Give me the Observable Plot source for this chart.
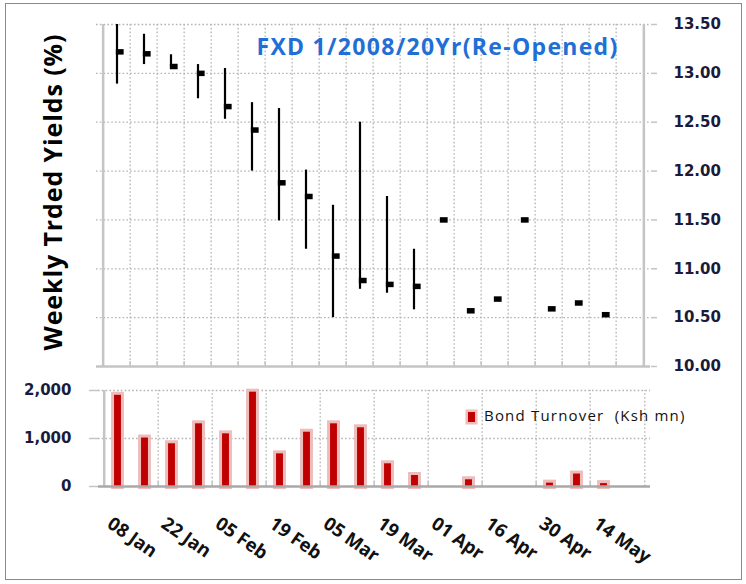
<!DOCTYPE html>
<html><head><meta charset="utf-8">
<script src="https://cdn.jsdelivr.net/npm/d3@7"></script>
<script src="https://cdn.jsdelivr.net/npm/@observablehq/plot@0.6"></script>
<style>
body{margin:0;background:#fff;}
#wrap{position:relative;width:746px;height:584px;overflow:hidden;background:#fff;}
#frame{position:absolute;left:5px;top:3px;width:737px;height:577px;border:1.5px solid #8a8a8a;box-sizing:border-box;}
.abs{position:absolute;}
#title{position:absolute;left:230px;top:31px;width:415px;text-align:center;font-family:"Open Sans";font-weight:700;font-size:23px;letter-spacing:1.3px;color:#1f6fd6;line-height:30px;white-space:nowrap;}
#ylab{position:absolute;left:-128px;top:175px;width:360px;height:34px;line-height:34px;text-align:center;transform:rotate(-90deg);font-family:"Open Sans";font-weight:700;font-size:25px;letter-spacing:0.9px;color:#000;white-space:nowrap;}
#legend{position:absolute;left:468px;top:405px;font-family:"Open Sans";font-size:15px;letter-spacing:1.2px;color:#111;white-space:nowrap;line-height:20px;}
#legend .sw{display:inline-block;width:7px;height:10px;background:#c00000;box-shadow:0 0 0 2.5px #efbcbc;vertical-align:-1px;margin-right:9px;}
</style></head><body>
<div id="wrap">
<div id="frame"></div>
<div id="top" class="abs" style="left:0;top:0"></div>
<div id="bot" class="abs" style="left:0;top:380px"></div>
<div id="title">FXD 1/2008/20Yr(Re-Opened)</div>
<div id="ylab">Weekly Trded Yields (%)</div>
<div id="legend"><span class="sw"></span>Bond Turnover&nbsp; (Ksh mn)</div>
</div>
<script>
// ---- data ----
const weeks = ["08 Jan","15 Jan","22 Jan","29 Jan","05 Feb","12 Feb","19 Feb","26 Feb","05 Mar","12 Mar",
               "19 Mar","26 Mar","01 Apr","09 Apr","16 Apr","23 Apr","30 Apr","07 May","14 May","21 May"];
const labelWeeks = ["08 Jan","22 Jan","05 Feb","19 Feb","05 Mar","19 Mar","01 Apr","16 Apr","30 Apr","14 May"];
const highs  = [13.50,13.40,13.19,13.09,13.05,12.70,12.64,12.01,11.65,12.50,11.74,11.20,null,null,null,null,null,null,null,null];
const lows   = [12.89,13.09,13.06,12.74,12.53,12.00,11.49,11.20,10.50,10.79,10.75,10.58,null,null,null,null,null,null,null,null];
const closes = [13.22,13.20,13.07,13.00,12.66,12.42,11.88,11.74,11.13,10.88,10.84,10.82,11.50,10.57,10.69,11.50,10.59,10.65,10.53,null];
const turnover = [1900,1010,890,1306,1097,1965,680,1131,1306,1223,473,229,null,140,null,null,70,260,60,null];
const yieldTicks = [10,10.5,11,11.5,12,12.5,13,13.5];
const turnTicks = [0,1000,2000];

const yieldData = weeks.map((w,i)=>({week:w, high:highs[i], low:lows[i], close:closes[i]}));
const turnData = weeks.map((w,i)=>({week:w, value:turnover[i]})).filter(d=>d.value!=null);

const gridStroke = "#b4b4b4", axisStroke = "#c4c4c4", dash = "1.6,2.2";
const numFont = {fontFamily:"DejaVu Sans", fontWeight:"bold", fontSize:15};

// ---- top chart ----
const bwTop = (746-96-96)/20;
const topPlot = Plot.plot({
  width:746, height:380, marginLeft:96, marginRight:96, marginTop:24, marginBottom:14,
  style:{background:"transparent", overflow:"visible"},
  x:{domain:weeks, padding:0, axis:null},
  y:{domain:[10,13.5], axis:null},
  marks:[
    Plot.ruleY(yieldTicks.slice(1), {y:d=>d, stroke:gridStroke, strokeDasharray:dash, strokeWidth:1.3}),
    Plot.ruleX(weeks.slice(1), {x:d=>d, dx:-bwTop/2, stroke:gridStroke, strokeDasharray:dash, strokeWidth:1.3}),
    Plot.axisX(weeks.slice(1), {tickSize:-5, dx:-bwTop/2, stroke:axisStroke, tickFormat:()=>"", strokeWidth:1.5, label:null}),
    Plot.ruleX([weeks[0]], {x:d=>d, dx:-bwTop/2, stroke:axisStroke, strokeWidth:2.5}),
    Plot.ruleX([weeks[19]], {x:d=>d, dx:bwTop/2, stroke:axisStroke, strokeWidth:2.5}),
    Plot.ruleY([10], {stroke:axisStroke, strokeWidth:2.5}),
    Plot.axisY({anchor:"right", ticks:yieldTicks, tickSize:6, tickPadding:17, stroke:axisStroke, strokeWidth:1.5,
      fill:"#1a1a3a", tickFormat:d3.format(".2f"), label:null, ...numFont}),
    Plot.ruleX(yieldData.filter(d=>d.high!=null), {x:"week", y1:"low", y2:"high", stroke:"#000", strokeWidth:2.2}),
    Plot.tickY(yieldData.filter(d=>d.close!=null), {x:"week", y:"close", insetLeft:bwTop/2-1, insetRight:bwTop/2-7.5, stroke:"#000", strokeWidth:5.5})
  ]
});
document.getElementById("top").appendChild(topPlot);

// ---- bottom chart ----
const bwBot = (746-98-96)/20;
const botPlot = Plot.plot({
  width:746, height:204, marginLeft:98, marginRight:96, marginTop:10, marginBottom:98,
  style:{background:"transparent", overflow:"visible"},
  x:{domain:weeks, padding:0, axis:null},
  y:{domain:[0,2000], axis:null},
  marks:[
    Plot.ruleY(turnTicks.slice(1), {y:d=>d, stroke:gridStroke, strokeDasharray:dash, strokeWidth:1.3}),
    Plot.ruleX(weeks.filter((d,i)=>i>0 && i%2===0), {x:d=>d, dx:-bwBot/2, y1:0, y2:2000, stroke:gridStroke, strokeDasharray:dash, strokeWidth:1.3}),
    Plot.ruleX([weeks[19]], {x:d=>d, dx:bwBot/2, y1:0, y2:2000, stroke:gridStroke, strokeDasharray:dash, strokeWidth:1.3}),
    Plot.axisX(weeks.filter((d,i)=>i>0 && i%2===0), {tickSize:-5, dx:-bwBot/2, stroke:axisStroke, tickFormat:()=>"", strokeWidth:1.5, label:null}),
    Plot.ruleX([weeks[0]], {x:d=>d, dx:-bwBot/2, y1:0, y2:2000, stroke:axisStroke, strokeWidth:2.5}),
    Plot.axisY({anchor:"left", ticks:turnTicks, tickSize:9, tickPadding:18, stroke:axisStroke, strokeWidth:1.5,
      fill:"#1a1a3a", tickFormat:d3.format(","), label:null, ...numFont}),
    Plot.barY(turnData, {x:"week", y:"value", insetLeft:(bwBot-7.5)/2, insetRight:(bwBot-7.5)/2, fill:"#efbcbc", stroke:"#efbcbc", strokeWidth:6}),
    Plot.barY(turnData, {x:"week", y:"value", insetLeft:(bwBot-7.5)/2, insetRight:(bwBot-7.5)/2, fill:"#c00000"}),
    Plot.ruleY([0], {stroke:"#a8a8a8", strokeWidth:2.5}),
    Plot.text(labelWeeks, {x:d=>d, text:d=>d, frameAnchor:"bottom", rotate:35, textAnchor:"start", dx:-12, dy:40,
      fontFamily:"Open Sans", fontWeight:"bold", fontSize:18.5, fill:"#111"})
  ]
});
document.getElementById("bot").appendChild(botPlot);
</script>
</body></html>
